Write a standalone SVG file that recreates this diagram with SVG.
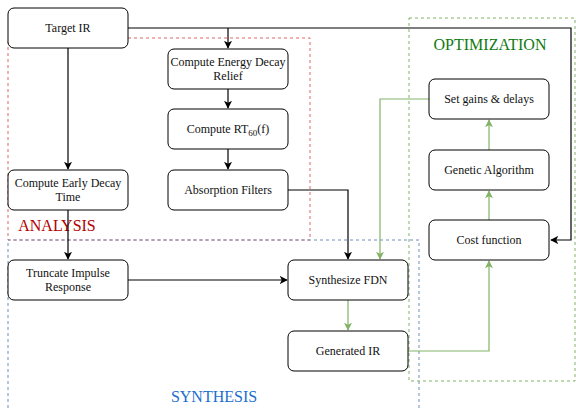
<svg xmlns="http://www.w3.org/2000/svg" width="576" height="409" viewBox="0 0 576 409" font-family="'Liberation Serif', 'Times New Roman', serif">
<defs>
<style>
.n rect{fill:#fff;stroke:#000;stroke-width:1}
text{font-family:"Liberation Serif","Times New Roman",serif}
.nt{font-size:12px;fill:#111;text-anchor:middle}
.c{fill:none;stroke:#000;stroke-width:1.2}
.g{fill:none;stroke:#82b366;stroke-width:1.2}
.lbl{font-size:16px;text-anchor:middle}
</style>
<marker id="ab" viewBox="0 0 10 10" refX="9" refY="5" markerWidth="8" markerHeight="8" markerUnits="userSpaceOnUse" orient="auto"><path d="M0,0 L10,5 L0,10 L2.5,5 z" fill="#000"/></marker>
<marker id="ag" viewBox="0 0 10 10" refX="9" refY="5" markerWidth="8" markerHeight="8" markerUnits="userSpaceOnUse" orient="auto"><path d="M0,0 L10,5 L0,10 L2.5,5 z" fill="#82b366"/></marker>
</defs>
<rect width="576" height="409" fill="#fff"/>
<g id="groups">
<rect x="8" y="38" width="302" height="202" fill="none" stroke="#e06666" stroke-width="1" stroke-dasharray="3,3"/>
<rect x="8" y="240" width="411" height="180" fill="none" stroke="#6c8ebf" stroke-width="1" stroke-dasharray="3,3"/>
<rect x="409" y="18" width="166" height="363" fill="none" stroke="#82b366" stroke-width="1" stroke-dasharray="3,3"/>
<text class="lbl" x="57" y="231" fill="#b20000">ANALYSIS</text>
<text class="lbl" x="214" y="402" fill="#1a6fcc">SYNTHESIS</text>
<text class="lbl" x="490" y="50" fill="#0f7a0f">OPTIMIZATION</text>
</g>
<g id="connectors">
<path class="c" d="M128,28 H571 V240 H551" marker-end="url(#ab)"/>
<path class="c" d="M228,28 V48" marker-end="url(#ab)"/>
<path class="c" d="M68,48 V169" marker-end="url(#ab)"/>
<path class="c" d="M228,89 V108" marker-end="url(#ab)"/>
<path class="c" d="M228,149 V169" marker-end="url(#ab)"/>
<path class="c" d="M288,190 H348 V259" marker-end="url(#ab)"/>
<path class="c" d="M68,210 V259" marker-end="url(#ab)"/>
<path class="c" d="M128,280 H287" marker-end="url(#ab)"/>
<path class="g" d="M429,99 H380 V259" marker-end="url(#ag)"/>
<path class="g" d="M348,300 V330" marker-end="url(#ag)"/>
<path class="g" d="M408,351 H489 V261" marker-end="url(#ag)"/>
<path class="g" d="M489,220 V191" marker-end="url(#ag)"/>
<path class="g" d="M489,150 V120" marker-end="url(#ag)"/>
</g>
<g id="target-ir" class="n"><rect x="8" y="8" width="120" height="40" rx="6"/><text class="nt" x="68" y="32">Target IR</text></g>
<g id="edr" class="n"><rect x="168" y="49" width="120" height="40" rx="6"/><text class="nt" x="228" y="66">Compute Energy Decay</text><text class="nt" x="228" y="80">Relief</text></g>
<g id="rt60" class="n"><rect x="168" y="109" width="120" height="40" rx="6"/><text class="nt" x="228" y="133">Compute RT<tspan font-size="9" dy="3">60</tspan><tspan dy="-3">(f)</tspan></text></g>
<g id="absorption" class="n"><rect x="168" y="170" width="120" height="40" rx="6"/><text class="nt" x="228" y="194">Absorption Filters</text></g>
<g id="edt" class="n"><rect x="8" y="170" width="120" height="40" rx="6"/><text class="nt" x="68" y="187">Compute Early Decay</text><text class="nt" x="68" y="201">Time</text></g>
<g id="truncate" class="n"><rect x="8" y="260" width="120" height="40" rx="6"/><text class="nt" x="68" y="277">Truncate Impulse</text><text class="nt" x="68" y="291">Response</text></g>
<g id="synth" class="n"><rect x="288" y="260" width="120" height="40" rx="6"/><text class="nt" x="348" y="284">Synthesize FDN</text></g>
<g id="generated" class="n"><rect x="288" y="331" width="120" height="40" rx="6"/><text class="nt" x="348" y="355">Generated IR</text></g>
<g id="setgains" class="n"><rect x="429" y="79" width="120" height="40" rx="6"/><text class="nt" x="489" y="103">Set gains &amp; delays</text></g>
<g id="genetic" class="n"><rect x="429" y="150" width="120" height="40" rx="6"/><text class="nt" x="489" y="174">Genetic Algorithm</text></g>
<g id="cost" class="n"><rect x="429" y="220" width="120" height="40" rx="6"/><text class="nt" x="489" y="244">Cost function</text></g>
</svg>
